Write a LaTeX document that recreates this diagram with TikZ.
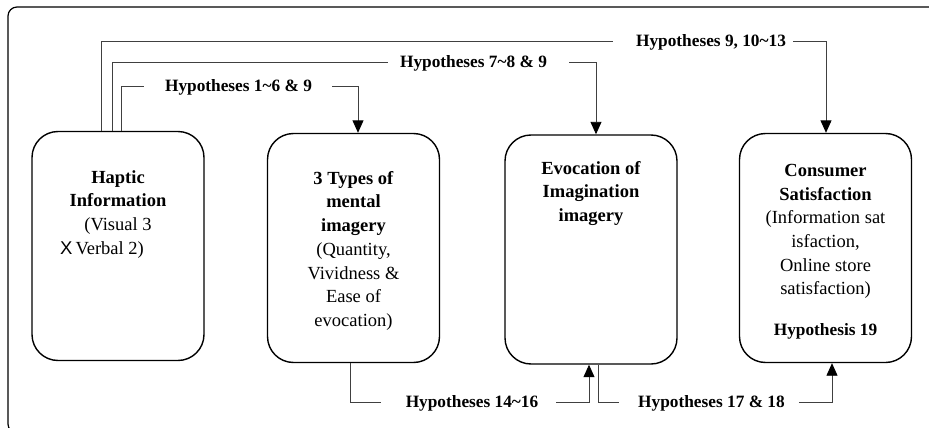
\documentclass[tikz,border=0pt]{standalone}
\usepackage{fontspec}
\setmainfont{Liberation Serif}
\newfontfamily\xsans{Liberation Sans}
\usetikzlibrary{arrows.meta}
\begin{document}
\begin{tikzpicture}[x=1pt,y=-1pt,
  box/.style={draw, line width=1.4pt, rounded corners=26pt, minimum width=172pt, minimum height=229pt, inner sep=0pt},
  txt/.style={align=center, anchor=north, inner sep=0pt, font=\fontsize{18.5}{23.7}\selectfont},
  hyp/.style={font=\fontsize{17.3}{20}\selectfont\bfseries, inner sep=0pt, text height=11.4pt, text depth=0pt},
  conn/.style={draw=black!75, line width=0.9pt},
  arr/.style={conn, -{Triangle[width=11pt,length=12.5pt,fill=black,color=black]}}]
\useasboundingbox (0,0) rectangle (929,428);
\clip (0,0) rectangle (929,428);
\draw[line width=1.2pt, rounded corners=9pt] (8,7) rectangle (945,433);

% boxes
\node[box] (b1) at (118,246) {};
\node[box] (b2) at (353.5,248) {};
\node[box] (b3) at (591,249.5) {};
\node[box] (b4) at (825.5,248) {};

% box texts
\node[txt] (t1) at (118,170) {\textbf{Haptic}\\ \textbf{Information}\\ (Visual 3\\ {\xsans X}\,Verbal 2)\hspace*{32pt}};
\node[txt] (t2) at (353.5,171) {\textbf{3 Types of}\\ \textbf{mental}\\ \textbf{imagery}\\ (Quantity,\\ Vividness \&\\ Ease of\\ evocation)};
\node[txt] (t3) at (591,161) {\textbf{Evocation of}\\ \textbf{Imagination}\\ \textbf{imagery}};
\node[txt] (t4) at (825.5,164) {\textbf{Consumer}\\ \textbf{Satisfaction}\\ (Information sat\\ isfaction,\\ Online store\\ satisfaction)};
\node[hyp] (t5) at (825.5,330) {Hypothesis 19};

% labels
\node[hyp] (l1) at (711,41) {Hypotheses 9, 10\textasciitilde 13};
\node[hyp] (l2) at (473.5,62) {Hypotheses 7\textasciitilde 8 \& 9};
\node[hyp] (l3) at (238.5,86) {Hypotheses 1\textasciitilde 6 \& 9};
\node[hyp] (l4) at (472,402) {Hypotheses 14\textasciitilde 16};
\node[hyp] (l5) at (711.5,402) {Hypotheses 17 \& 18};

% bend points
\coordinate (a1) at (101,41);
\coordinate (a2) at (826,41);
\coordinate (a3) at (112,62);
\coordinate (a4) at (596,62);
\coordinate (a5) at (121,86);
\coordinate (a6) at (358,86);
\coordinate (c1) at (350,402);
\coordinate (c2) at (589,402);
\coordinate (c3) at (598,402);
\coordinate (c4) at (832,402);

% top connectors
\draw[conn] (b1.north -| a1) -- (a1) -- ([xshift=-23pt]l1.west);
\draw[arr] ([xshift=7pt]l1.east) -- (a2) -- (a2 |- b4.north);
\draw[conn] (b1.north -| a3) -- (a3) -- ([xshift=-12pt]l2.west);
\draw[arr] ([xshift=22pt]l2.east) -- (a4) -- (a4 |- b3.north);
\draw[conn] (b1.north -| a5) -- (a5) -- ([xshift=-21pt]l3.west);
\draw[arr] ([xshift=20pt]l3.east) -- (a6) -- (a6 |- b2.north);

% bottom connectors
\draw[conn] (b2.south -| c1) -- (c1) -- ([xshift=-25pt]l4.west);
\draw[arr] ([xshift=18pt]l4.east) -- (c2) -- (c2 |- b3.south);
\draw[conn] (b3.south -| c3) -- (c3) -- ([xshift=-19pt]l5.west);
\draw[arr] ([xshift=14pt]l5.east) -- (c4) -- (c4 |- b4.south);
\end{tikzpicture}
\end{document}
